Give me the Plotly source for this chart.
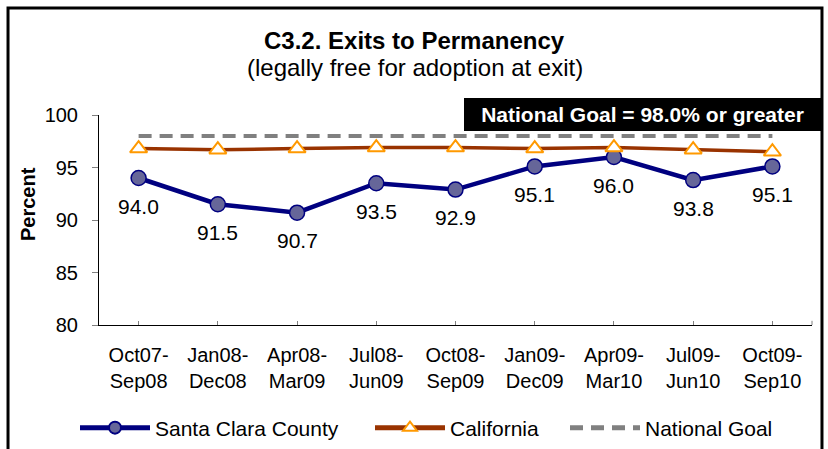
import plotly.graph_objects as go

categories = ["Oct07-<br>Sep08", "Jan08-<br>Dec08", "Apr08-<br>Mar09", "Jul08-<br>Jun09",
              "Oct08-<br>Sep09", "Jan09-<br>Dec09", "Apr09-<br>Mar10", "Jul09-<br>Jun10",
              "Oct09-<br>Sep10"]
santa_clara = [94.0, 91.5, 90.7, 93.5, 92.9, 95.1, 96.0, 93.8, 95.1]
california = [96.8, 96.7, 96.8, 96.9, 96.9, 96.8, 96.9, 96.7, 96.5]
national_goal = [98.0, 98.0, 98.0, 98.0, 98.0, 98.0, 98.0, 98.0, 98.0]
y_ticks = [80, 85, 90, 95, 100]

FONT = "Liberation Sans, Arial, sans-serif"

fig = go.Figure()
fig.add_trace(go.Scatter(
    x=categories, y=santa_clara, name="Santa Clara County", mode="lines+markers",
    line=dict(color="#000080", width=4.5), legend="legend",
    marker=dict(symbol="circle", size=15, color="#666699", line=dict(color="#000080", width=1.5)),
))
fig.add_trace(go.Scatter(
    x=categories, y=california, name="California", mode="lines+markers",
    line=dict(color="#993300", width=3.5), legend="legend2",
    marker=dict(symbol="triangle-up", size=15, color="white", line=dict(color="#FF9900", width=2)),
))
fig.add_trace(go.Scatter(
    x=categories, y=national_goal, name="National Goal", mode="lines",
    line=dict(color="#808080", width=4, dash="13px,8px"), legend="legend3",
))

# data labels below Santa Clara points
for c, v in zip(categories, santa_clara):
    fig.add_annotation(x=c, y=v, text=f"{v:.1f}", showarrow=False, yshift=-28,
                       xanchor="center", yanchor="middle",
                       font=dict(family=FONT, size=21, color="black"))

# titles
fig.add_annotation(xref="paper", yref="paper", x=0.443, y=1.357, text="<b>C3.2. Exits to Permanency</b>",
                   showarrow=False, xanchor="center", yanchor="middle",
                   font=dict(family=FONT, size=24, color="black"))
fig.add_annotation(xref="paper", yref="paper", x=0.443, y=1.224, text="(legally free for adoption at exit)",
                   showarrow=False, xanchor="center", yanchor="middle",
                   font=dict(family=FONT, size=24, color="black"))
fig.add_annotation(xref="paper", yref="paper", x=-0.0996, y=0.576, text="<b>Percent</b>", textangle=-90,
                   showarrow=False, xanchor="center", yanchor="middle",
                   font=dict(family=FONT, size=20, color="black"))

# national goal box
fig.add_annotation(xref="paper", yref="paper", x=0.762, y=1.0024, text="<b>National Goal = 98.0% or greater</b>",
                   showarrow=False, xanchor="center", yanchor="middle",
                   width=355, height=31, borderpad=1, bgcolor="black", borderwidth=0,
                   font=dict(family=FONT, size=21, color="white"))

# outer border
fig.add_shape(type="rect", xref="paper", yref="paper", x0=-0.1276, x1=1.0140, y0=-0.8, y1=1.51,
              line=dict(color="black", width=3), fillcolor="rgba(0,0,0,0)", layer="above")
# end tick at right of x axis
fig.add_shape(type="line", xref="paper", yref="paper", x0=1, x1=1, y0=0, y1=0.02,
              line=dict(color="#808080", width=1))

leg_common = dict(orientation="h", xref="container", yref="container", y=0.0468,
                  xanchor="left", yanchor="middle", itemwidth=70, itemsizing="constant",
                  font=dict(family=FONT, size=21, color="black"), bgcolor="rgba(0,0,0,0)")

fig.update_layout(
    width=828, height=449, autosize=False,
    margin=dict(l=99, r=16, t=115, b=124),
    paper_bgcolor="white", plot_bgcolor="white",
    font=dict(family=FONT, size=20, color="black"),
    showlegend=True,
    legend=dict(x=75 / 828, **leg_common),
    legend2=dict(x=370 / 828, **leg_common),
    legend3=dict(x=565 / 828, **leg_common),
    xaxis=dict(type="category", range=[-0.5, 8.5], showgrid=False, zeroline=False,
               showline=True, linecolor="black", linewidth=1,
               ticks="inside", ticklen=4, tickcolor="#808080", ticklabelstandoff=12,
               tickfont=dict(family=FONT, size=20, color="black")),
    yaxis=dict(range=[80, 100], tickvals=y_ticks, showgrid=False, zeroline=False,
               showline=True, linecolor="black", linewidth=1,
               ticks="outside", ticklen=6, tickcolor="#808080", ticklabelstandoff=10,
               tickfont=dict(family=FONT, size=20, color="black")),
)

fig.write_html("out.html", config={"displayModeBar": False},
               post_script="document.body.style.margin='0';")
